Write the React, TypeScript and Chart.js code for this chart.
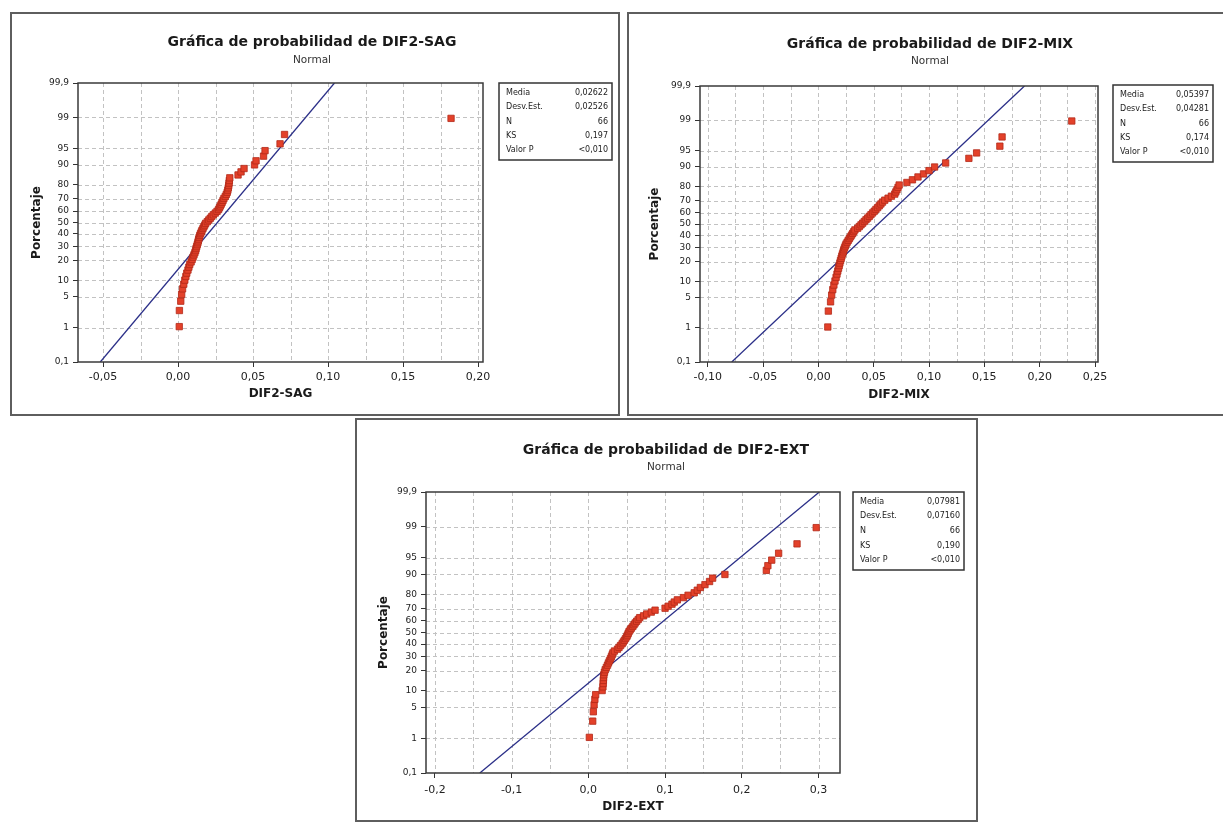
import React, { useEffect, useRef } from "react";
import { Chart, registerables } from "chart.js";

Chart.register(...registerables);

// Plotting positions (median ranks) for N = 66, in percent
const PLOT_PERCENT = [
  1.054, 2.56, 4.066, 5.572, 7.078, 8.584, 10.09, 11.596, 13.102, 14.608,
  16.114, 17.62, 19.127, 20.633, 22.139, 23.645, 25.151, 26.657, 28.163, 29.669,
  31.175, 32.681, 34.187, 35.693, 37.199, 38.705, 40.211, 41.717, 43.223, 44.729,
  46.235, 47.741, 49.247, 50.753, 52.259, 53.765, 55.271, 56.777, 58.283, 59.789,
  61.295, 62.801, 64.307, 65.813, 67.319, 68.825, 70.331, 71.837, 73.343, 74.849,
  76.355, 77.861, 79.367, 80.873, 82.38, 83.886, 85.392, 86.898, 88.404, 89.91,
  91.416, 92.922, 94.428, 95.934, 97.44, 98.946,
];

const SAG_VALUES = [
  0.0008, 0.0009, 0.0018, 0.0024, 0.003, 0.0038, 0.0045, 0.0052, 0.0058, 0.0066,
  0.0072, 0.0078, 0.0087, 0.0094, 0.01, 0.0106, 0.0112, 0.0117, 0.012, 0.0124,
  0.0128, 0.0132, 0.0135, 0.0138, 0.0141, 0.0145, 0.015, 0.0155, 0.016, 0.0166,
  0.0172, 0.0178, 0.0184, 0.0195, 0.0205, 0.0215, 0.0225, 0.0235, 0.0248, 0.026,
  0.027, 0.0276, 0.0282, 0.0288, 0.0294, 0.03, 0.0306, 0.0315, 0.0322, 0.0328,
  0.0332, 0.0335, 0.0338, 0.034, 0.0342, 0.0345, 0.04, 0.042, 0.044, 0.051,
  0.052, 0.057, 0.058, 0.068, 0.071, 0.182,
];

const MIX_VALUES = [
  0.0085, 0.009, 0.011, 0.012, 0.013, 0.014, 0.015, 0.016, 0.0168, 0.0175,
  0.0182, 0.0188, 0.0194, 0.02, 0.0206, 0.0212, 0.0218, 0.0224, 0.023, 0.0236,
  0.0243, 0.025, 0.026, 0.027, 0.028, 0.029, 0.03, 0.031, 0.032, 0.033,
  0.0355, 0.037, 0.0385, 0.04, 0.0415, 0.043, 0.0445, 0.046, 0.0475, 0.049,
  0.0505, 0.052, 0.0535, 0.055, 0.0565, 0.058, 0.06, 0.063, 0.066, 0.069,
  0.07, 0.071, 0.072, 0.073, 0.08, 0.085, 0.09, 0.095, 0.1, 0.105,
  0.115, 0.136, 0.143, 0.164, 0.166, 0.229,
];

const EXT_VALUES = [
  0.0013, 0.0057, 0.0065, 0.0075, 0.0085, 0.0095, 0.018, 0.019, 0.0193, 0.0196,
  0.0198, 0.0202, 0.021, 0.022, 0.0235, 0.025, 0.0262, 0.0275, 0.0288, 0.03,
  0.031, 0.032, 0.034, 0.038, 0.04, 0.042, 0.044, 0.0455, 0.047, 0.0485,
  0.05, 0.051, 0.052, 0.053, 0.0545, 0.056, 0.058, 0.0595, 0.061, 0.063,
  0.065, 0.067, 0.072, 0.076, 0.082, 0.087, 0.1, 0.104, 0.109, 0.112,
  0.116, 0.124, 0.13, 0.138, 0.142, 0.146, 0.152, 0.158, 0.162, 0.178,
  0.232, 0.234, 0.239, 0.248, 0.272, 0.297,
];

const Y_TICK_PERCENT = [0.1, 1, 5, 10, 20, 30, 40, 50, 60, 70, 80, 90, 95, 99, 99.9];
const Y_TICK_LABELS = ["0,1", "1", "5", "10", "20", "30", "40", "50", "60", "70", "80", "90", "95", "99", "99,9"];

const SAG_X_TICKS = [-0.05, 0, 0.05, 0.1, 0.15, 0.2];
const SAG_X_LABELS = ["-0,05", "0,00", "0,05", "0,10", "0,15", "0,20"];
const SAG_X_GRID = [-0.05, -0.025, 0, 0.025, 0.05, 0.075, 0.1, 0.125, 0.15, 0.175, 0.2];

const MIX_X_TICKS = [-0.1, -0.05, 0, 0.05, 0.1, 0.15, 0.2, 0.25];
const MIX_X_LABELS = ["-0,10", "-0,05", "0,00", "0,05", "0,10", "0,15", "0,20", "0,25"];
const MIX_X_GRID = [-0.1, -0.075, -0.05, -0.025, 0, 0.025, 0.05, 0.075, 0.1, 0.125, 0.15, 0.175, 0.2, 0.225, 0.25];

const EXT_X_TICKS = [-0.2, -0.1, 0, 0.1, 0.2, 0.3];
const EXT_X_LABELS = ["-0,2", "-0,1", "0,0", "0,1", "0,2", "0,3"];
const EXT_X_GRID = [-0.2, -0.15, -0.1, -0.05, 0, 0.05, 0.1, 0.15, 0.2, 0.25, 0.3];

const STAT_LABELS = ["Media", "Desv.Est.", "N", "KS", "Valor P"];
const SAG_STATS = ["0,02622", "0,02526", "66", "0,197", "<0,010"];
const MIX_STATS = ["0,05397", "0,04281", "66", "0,174", "<0,010"];
const EXT_STATS = ["0,07981", "0,07160", "66", "0,190", "<0,010"];

const SAG_MEAN = 0.02622;
const SAG_SD = 0.02526;
const MIX_MEAN = 0.05397;
const MIX_SD = 0.04281;
const EXT_MEAN = 0.07981;
const EXT_SD = 0.0716;

const FONT = '"DejaVu Sans", Verdana, sans-serif';

// inverse standard normal CDF (Acklam)
function normInv(p: number): number {
  const a = [-39.69683028665376, 220.9460984245205, -275.9285104469687, 138.357751867269, -30.66479806614716, 2.506628277459239];
  const b = [-54.47609879822406, 161.5858368580409, -155.6989798598866, 66.80131188771972, -13.28068155288572];
  const c = [-0.007784894002430293, -0.3223964580411365, -2.400758277161838, -2.549671010862931, 4.374664141464968, 2.938163982698783];
  const d = [0.007784695709041462, 0.3224671290700398, 2.445134137142996, 3.754408661907416];
  const pl = 0.02425;
  if (p < pl) {
    const q = Math.sqrt(-2 * Math.log(p));
    return (((((c[0] * q + c[1]) * q + c[2]) * q + c[3]) * q + c[4]) * q + c[5]) / ((((d[0] * q + d[1]) * q + d[2]) * q + d[3]) * q + 1);
  }
  if (p <= 1 - pl) {
    const q = p - 0.5;
    const r = q * q;
    return ((((((a[0] * r + a[1]) * r + a[2]) * r + a[3]) * r + a[4]) * r + a[5]) * q) / (((((b[0] * r + b[1]) * r + b[2]) * r + b[3]) * r + b[4]) * r + 1);
  }
  const q = Math.sqrt(-2 * Math.log(1 - p));
  return -(((((c[0] * q + c[1]) * q + c[2]) * q + c[3]) * q + c[4]) * q + c[5]) / ((((d[0] * q + d[1]) * q + d[2]) * q + d[3]) * q + 1);
}

const zOf = (pct: number) => normInv(pct / 100);

interface Panel {
  name: string;
  values: number[];
  mean: number;
  sd: number;
  stats: string[];
  xTicks: number[];
  xLabels: string[];
  xGrid: number[];
  xMin: number;
  xMax: number;
  left: number;
  top: number;
  w: number;
  h: number;
  pl: number;
  pt: number;
  pr: number;
  pb: number;
  titleX: number;
  titleY: number;
  subY: number;
  box: [number, number, number, number];
  yTitlePad: number;
  xTitlePad: number;
  xTickPad: number;
  drawRight: boolean;
}

const PANELS: Panel[] = [
  {
    name: "DIF2-SAG", values: SAG_VALUES, mean: SAG_MEAN, sd: SAG_SD, stats: SAG_STATS,
    xTicks: SAG_X_TICKS, xLabels: SAG_X_LABELS, xGrid: SAG_X_GRID, xMin: -0.0667, xMax: 0.2033,
    left: 10, top: 12, w: 610, h: 404, pl: 68, pt: 71, pr: 473, pb: 350,
    titleX: 302, titleY: 30, subY: 48, box: [489, 71, 602, 148],
    yTitlePad: 20, xTitlePad: 14.8, xTickPad: 4, drawRight: true,
  },
  {
    name: "DIF2-MIX", values: MIX_VALUES, mean: MIX_MEAN, sd: MIX_SD, stats: MIX_STATS,
    xTicks: MIX_X_TICKS, xLabels: MIX_X_LABELS, xGrid: MIX_X_GRID, xMin: -0.107, xMax: 0.2527,
    left: 627, top: 12, w: 596, h: 404, pl: 73, pt: 74, pr: 471, pb: 350,
    titleX: 303, titleY: 32, subY: 49, box: [486, 73, 586, 150],
    yTitlePad: 20.8, xTitlePad: 13.8, xTickPad: 4, drawRight: false,
  },
  {
    name: "DIF2-EXT", values: EXT_VALUES, mean: EXT_MEAN, sd: EXT_SD, stats: EXT_STATS,
    xTicks: EXT_X_TICKS, xLabels: EXT_X_LABELS, xGrid: EXT_X_GRID, xMin: -0.2116, xMax: 0.328,
    left: 355, top: 418, w: 623, h: 404, pl: 71, pt: 74, pr: 485, pb: 355,
    titleX: 311, titleY: 32, subY: 49, box: [498, 74, 609, 152],
    yTitlePad: 21.8, xTitlePad: 7.8, xTickPad: 5.5, drawRight: true,
  },
];

const Z_MIN = zOf(0.1);
const Z_MAX = zOf(99.9);

function PlotPanel({ p }: { p: Panel }) {
  const ref = useRef<HTMLCanvasElement | null>(null);

  useEffect(() => {
    if (!ref.current) return;
    const points = p.values.map((v, i) => ({ x: v, y: zOf(PLOT_PERCENT[i]) }));
    const fit = [
      { x: p.mean + p.sd * Z_MIN, y: Z_MIN },
      { x: p.mean + p.sd * Z_MAX, y: Z_MAX },
    ];

    const deco = {
      id: "deco-" + p.name,
      beforeDatasetsDraw(chart: any) {
        const { ctx, chartArea } = chart;
        const xs = chart.scales.x;
        const ys = chart.scales.y;
        ctx.save();
        ctx.strokeStyle = "#c2c2c2";
        ctx.lineWidth = 1;
        ctx.setLineDash([4, 3]);
        Y_TICK_PERCENT.slice(1, -1).forEach((pct) => {
          const y = Math.round(ys.getPixelForValue(zOf(pct))) + 0.5;
          ctx.beginPath();
          ctx.moveTo(chartArea.left, y);
          ctx.lineTo(chartArea.right, y);
          ctx.stroke();
        });
        p.xGrid.forEach((v) => {
          const x = Math.round(xs.getPixelForValue(v)) + 0.5;
          if (x <= chartArea.left + 1 || x >= chartArea.right - 1) return;
          ctx.beginPath();
          ctx.moveTo(x, chartArea.top);
          ctx.lineTo(x, chartArea.bottom);
          ctx.stroke();
        });
        ctx.restore();
      },
      afterDraw(chart: any) {
        const { ctx, chartArea } = chart;
        ctx.save();
        // plot frame
        ctx.strokeStyle = "#3a3a3a";
        ctx.lineWidth = 1.5;
        ctx.strokeRect(chartArea.left, chartArea.top, chartArea.right - chartArea.left, chartArea.bottom - chartArea.top);

        // titles
        ctx.fillStyle = "#1a1a1a";
        ctx.textAlign = "center";
        ctx.textBaseline = "middle";
        ctx.font = `bold 14px ${FONT}`;
        ctx.fillText("Gráfica de probabilidad de " + p.name, p.titleX, p.titleY);
        ctx.font = `10.5px ${FONT}`;
        ctx.fillStyle = "#333";
        ctx.fillText("Normal", p.titleX, p.subY);

        // stats box
        const [bl, bt, br, bb] = p.box;
        ctx.strokeStyle = "#333";
        ctx.lineWidth = 1.5;
        ctx.strokeRect(bl, bt, br - bl, bb - bt);
        ctx.font = `8px ${FONT}`;
        ctx.fillStyle = "#222";
        const bh = bb - bt;
        STAT_LABELS.forEach((lab, i) => {
          const y = bt + bh * (0.126 + i * 0.187);
          ctx.textAlign = "left";
          ctx.fillText(lab, bl + 7, y);
          ctx.textAlign = "right";
          ctx.fillText(p.stats[i], br - 4, y);
        });

        // panel border
        ctx.strokeStyle = "#5e5e5e";
        ctx.lineWidth = 2;
        ctx.beginPath();
        if (p.drawRight) {
          ctx.moveTo(p.w - 1, 1);
          ctx.lineTo(1, 1);
          ctx.lineTo(1, p.h - 1);
          ctx.lineTo(p.w - 1, p.h - 1);
          ctx.closePath();
        } else {
          ctx.moveTo(p.w, 1);
          ctx.lineTo(1, 1);
          ctx.lineTo(1, p.h - 1);
          ctx.lineTo(p.w, p.h - 1);
        }
        ctx.stroke();
        ctx.restore();
      },
    };

    const chart = new Chart(ref.current, {
      type: "scatter",
      data: {
        datasets: [
          {
            label: "Ajuste",
            data: fit,
            showLine: true,
            borderColor: "#2b2f88",
            borderWidth: 1.3,
            pointRadius: 0,
            order: 2,
          } as any,
          {
            label: p.name,
            data: points,
            pointStyle: "rect",
            pointRadius: 4.5,
            backgroundColor: "#e3412a",
            borderColor: "#b32818",
            borderWidth: 0.8,
            order: 1,
          } as any,
        ],
      },
      options: {
        responsive: false,
        animation: false,
        layout: {
          autoPadding: false,
          padding: { left: 0, top: p.pt, right: p.w - p.pr, bottom: 0 },
        } as any,
        plugins: {
          legend: { display: false },
          tooltip: { enabled: false },
          title: { display: false },
        },
        scales: {
          x: {
            type: "linear",
            min: p.xMin,
            max: p.xMax,
            afterFit: (s: any) => {
              s.height = p.h - p.pb;
            },
            afterBuildTicks: (s: any) => {
              s.ticks = p.xTicks.map((v) => ({ value: v }));
            },
            ticks: {
              callback: (_v: any, i: number) => p.xLabels[i],
              font: { family: FONT, size: 11 },
              color: "#222",
              padding: p.xTickPad,
              maxRotation: 0,
              autoSkip: false,
            },
            grid: { drawOnChartArea: false, drawTicks: true, tickLength: 5, tickColor: "#333", tickWidth: 1 },
            border: { display: false },
            title: {
              display: true,
              text: p.name,
              font: { family: FONT, size: 12, weight: "bold" },
              color: "#1a1a1a",
              padding: { top: 0, bottom: p.xTitlePad },
            },
          },
          y: {
            type: "linear",
            min: Z_MIN,
            max: Z_MAX,
            afterFit: (s: any) => {
              s.width = p.pl;
            },
            afterBuildTicks: (s: any) => {
              s.ticks = Y_TICK_PERCENT.map((v) => ({ value: zOf(v) }));
            },
            ticks: {
              callback: (_v: any, i: number) => Y_TICK_LABELS[i],
              font: { family: FONT, size: 9 },
              color: "#222",
              padding: 4,
              autoSkip: false,
            },
            grid: { drawOnChartArea: false, drawTicks: true, tickLength: 5, tickColor: "#333", tickWidth: 1 },
            border: { display: false },
            title: {
              display: true,
              text: "Porcentaje",
              font: { family: FONT, size: 12, weight: "bold" },
              color: "#1a1a1a",
              padding: { top: p.yTitlePad, bottom: 0 },
            },
          },
        },
      },
      plugins: [deco],
    });
    return () => chart.destroy();
  }, [p]);

  return (
    <canvas
      ref={ref}
      width={p.w}
      height={p.h}
      style={{ position: "absolute", left: p.left, top: p.top, width: p.w, height: p.h }}
    />
  );
}

export default function App() {
  return (
    <div style={{ position: "absolute", left: 0, top: 0, width: 1223, height: 824, background: "#fff", overflow: "hidden" }}>
      {PANELS.map((p) => (
        <PlotPanel key={p.name} p={p} />
      ))}
    </div>
  );
}
